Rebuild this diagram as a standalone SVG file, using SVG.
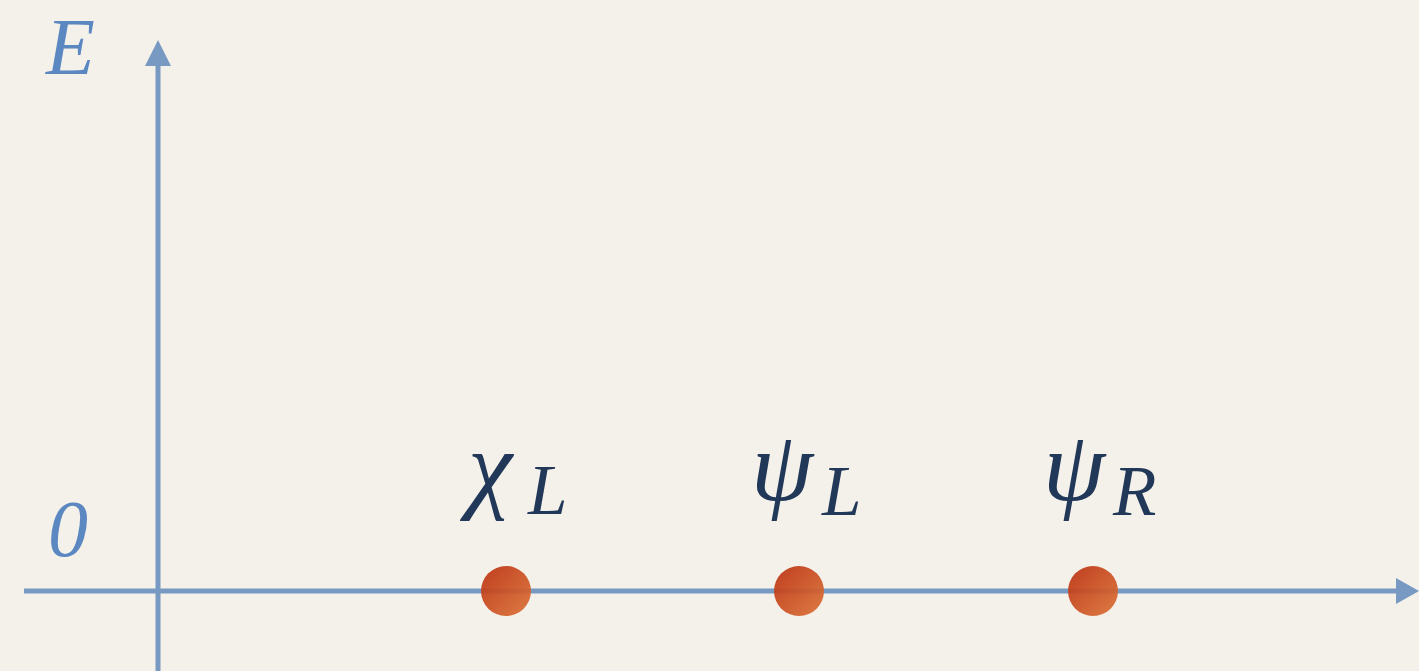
<svg xmlns="http://www.w3.org/2000/svg" width="1419" height="671" viewBox="0 0 1419 671">
  <style>
    .axis { stroke: #7799c2; stroke-width: 5; fill: none; }
    .head { fill: #7799c2; }
    .axlabel { font-family: "Liberation Serif", "DejaVu Serif", serif; font-style: italic; font-size: 80px; fill: #5c88c1; }
    .greek { font-family: "Liberation Serif", "DejaVu Serif", serif; font-style: italic; font-size: 100px; fill: #223858; }
    .sub { font-family: "Liberation Serif", "DejaVu Serif", serif; font-style: italic; font-size: 71px; fill: #223858; }
    .dot { fill: url(#dotGrad); opacity: 0.93; }
  </style>
  <defs>
    <linearGradient id="dotGrad" x1="0" y1="0" x2="1" y2="1">
      <stop offset="0" stop-color="#bb3010"/>
      <stop offset="1" stop-color="#dc7337"/>
    </linearGradient>
  </defs>
  <rect x="0" y="0" width="1419" height="671" fill="#f4f1eb"/>

  <g id="connectors">
    <line class="axis" x1="158" y1="671" x2="158" y2="62"/>
    <polygon class="head" points="158,40 145,66 171,66"/>
    <line class="axis" x1="24" y1="591" x2="1398" y2="591"/>
    <polygon class="head" points="1419,591 1396,578 1396,604"/>
  </g>

  <g id="label-E">
    <text class="axlabel" x="46" y="74">E</text>
  </g>
  <g id="label-0">
    <text class="axlabel" x="48" y="556">0</text>
  </g>

  <g id="node-chiL">
    <circle class="dot" cx="506" cy="591" r="25"/>
    <text class="greek" x="468" y="500">χ</text>
    <text class="sub" x="528" y="514">L</text>
  </g>
  <g id="node-psiL">
    <circle class="dot" cx="799" cy="591" r="25"/>
    <text class="greek" x="751" y="500">ψ</text>
    <text class="sub" x="822" y="515">L</text>
  </g>
  <g id="node-psiR">
    <circle class="dot" cx="1093" cy="591" r="25"/>
    <text class="greek" x="1043" y="500">ψ</text>
    <text class="sub" x="1113" y="515">R</text>
  </g>
</svg>
